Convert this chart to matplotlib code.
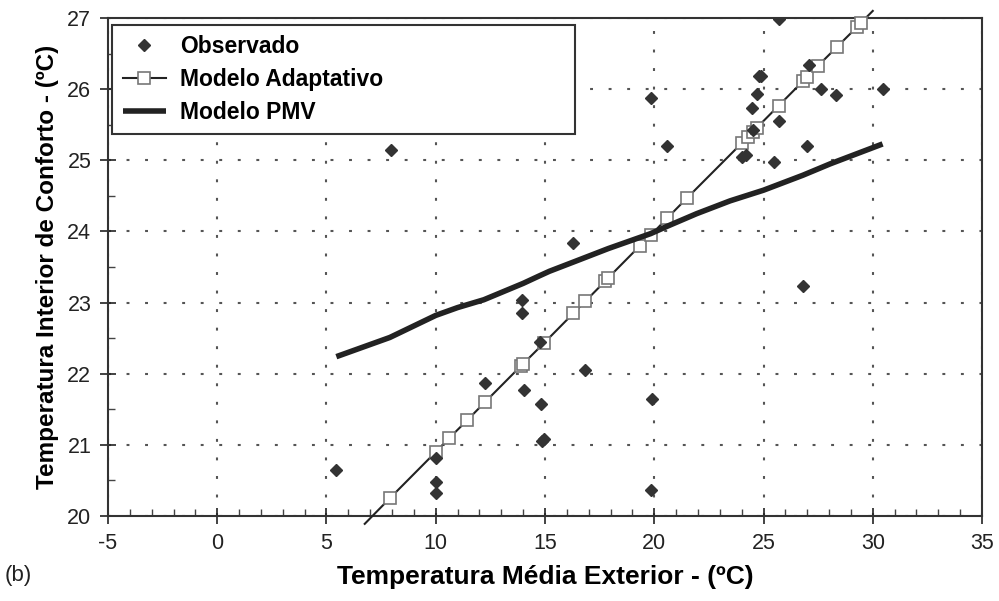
import matplotlib
matplotlib.use("Agg")
import matplotlib.pyplot as plt
from matplotlib.ticker import MultipleLocator

# ---- data ----
obs_x = [5.45, 7.95, 10.0, 10.0, 10.0, 12.25, 13.95, 13.95, 14.05, 14.8, 14.85, 14.95,
         14.75, 16.3, 16.83, 19.83, 19.88, 19.83, 20.6, 24.03, 24.2, 24.46, 24.5, 24.72,
         24.8, 24.9, 25.48, 25.71, 25.71, 26.82, 26.97, 27.1, 27.61, 28.34, 30.45]
obs_y = [20.65, 25.14, 20.82, 20.48, 20.33, 21.87, 23.04, 22.86, 21.77, 21.58, 21.05, 21.08,
         22.45, 23.84, 22.05, 25.88, 21.64, 20.37, 25.20, 25.05, 25.08, 25.74, 25.42, 25.93,
         26.19, 26.19, 24.98, 25.55, 26.98, 23.23, 25.20, 26.34, 26.00, 25.92, 26.00]

adapt_x = [6.75, 7.9, 10.0, 10.6, 11.45, 12.25, 13.9, 14.0, 14.95, 16.3, 16.85, 17.75, 17.9,
           19.35, 19.85, 20.6, 21.5, 24.0, 24.3, 24.5, 24.7, 25.7, 26.8, 27.0, 27.5, 28.35,
           29.3, 29.45, 30.0]
adapt_y = [19.89, 20.25, 20.90, 21.09, 21.35, 21.60, 22.11, 22.14, 22.43, 22.85, 23.02, 23.30,
           23.35, 23.80, 23.95, 24.19, 24.47, 25.24, 25.33, 25.40, 25.46, 25.77, 26.11, 26.17,
           26.33, 26.59, 26.88, 26.93, 27.10]

pmv_x = [5.45, 7.9, 10.0, 11.0, 12.2, 14.0, 14.7, 15.2, 16.3, 17.9, 19.84, 20.57, 21.94,
         23.47, 25.0, 26.8, 28.05, 30.45]
pmv_y = [22.24, 22.51, 22.82, 22.93, 23.04, 23.27, 23.37, 23.44, 23.57, 23.76, 23.97, 24.07,
         24.25, 24.43, 24.58, 24.79, 24.95, 25.23]

x_ticks = [-5, 0, 5, 10, 15, 20, 25, 30, 35]
y_ticks = [20, 21, 22, 23, 24, 25, 26, 27]

legend_labels = ["Observado", "Modelo Adaptativo", "Modelo PMV"]
xlabel = "Temperatura Média Exterior - (ºC)"
ylabel = "Temperatura Interior de Conforto - (ºC)"

plt.rcParams['font.family'] = ['Liberation Sans', 'DejaVu Sans']
plt.rcParams['axes.unicode_minus'] = False

fig = plt.figure(figsize=(9.99, 6.01), dpi=100)
ax = fig.add_axes([0.1081, 0.1414, 0.8749, 0.8286])

ax.set_xlim(-5, 35)
ax.set_ylim(20, 27)

# grid
ax.set_xticks(x_ticks)
ax.set_yticks(y_ticks)
ax.xaxis.set_minor_locator(MultipleLocator(1))
ax.yaxis.set_minor_locator(MultipleLocator(0.5))
ax.grid(True, which='major', color='#555555', linestyle=(0, (1.4, 7.5)), linewidth=1.5)

ax.tick_params(axis='both', which='major', direction='inout', length=12, width=1.2,
               labelsize=15.5, colors='#222222')
ax.tick_params(axis='x', which='major', pad=6)
ax.tick_params(axis='y', which='major', pad=6)
ax.tick_params(axis='both', which='minor', direction='in', length=5, width=1.0, color='#444444')

for s in ax.spines.values():
    s.set_linewidth(1.5)
    s.set_color('#333333')

# series
l_obs, = ax.plot(obs_x, obs_y, linestyle='none', marker='D', markersize=6.5,
                 color='#333333', zorder=4, label=legend_labels[0])
l_ad, = ax.plot(adapt_x, adapt_y, color='#222222', linewidth=1.5, marker='s',
                markersize=9, markerfacecolor='white', markeredgecolor='#777777',
                markeredgewidth=1.2, markevery=slice(1, len(adapt_x) - 1),
                clip_on=False, zorder=3, label=legend_labels[1])
l_pmv, = ax.plot(pmv_x, pmv_y, color='#222222', linewidth=4, solid_capstyle='butt',
                 solid_joinstyle='round', zorder=3, label=legend_labels[2])

leg = ax.legend(handles=[l_obs, l_ad, l_pmv], loc='upper left',
                bbox_to_anchor=(0.005, 0.986, 0.529, 0.0), mode='expand',
                prop={'weight': 'bold', 'size': 16.5}, frameon=True, fancybox=False,
                framealpha=1, edgecolor='#333333', borderpad=0.45, labelspacing=0.42,
                handlelength=1.9, handletextpad=0.6, borderaxespad=0.0)
leg.get_frame().set_linewidth(1.5)
leg.set_zorder(10)

ax.set_xlabel(xlabel, fontsize=19, fontweight='bold', labelpad=8)
ax.set_ylabel(ylabel, fontsize=17.5, fontweight='bold', labelpad=6)

fig.text(0.005, 0.033, "(b)", fontsize=16, color='#222222')

fig.savefig("out.png", dpi=100)
